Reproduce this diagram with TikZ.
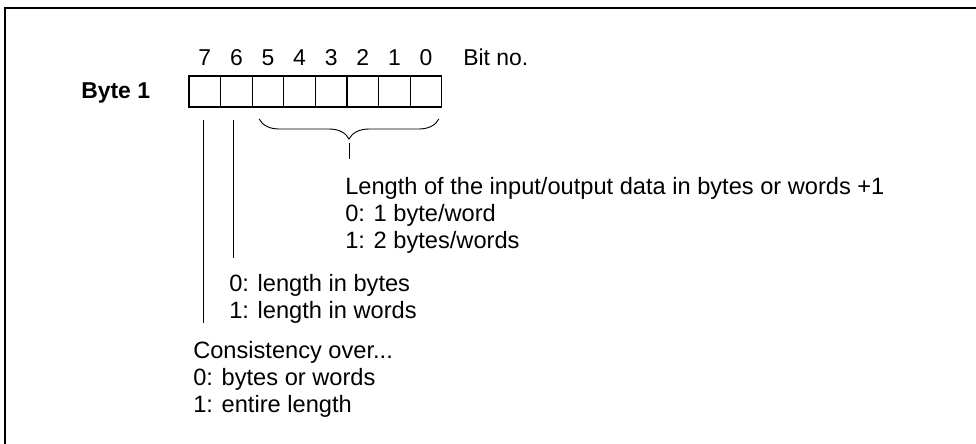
\documentclass[tikz,border=0pt]{standalone}
\usepackage{fontspec}
\setmainfont{Liberation Sans}
\usetikzlibrary{positioning,calc,decorations.pathreplacing}
\tikzset{
  cellbox/.style={draw, line width=0.95pt, minimum width=0.79cm, minimum height=0.775cm, inner sep=0pt, outer sep=0pt},
  bitlabel/.style={inner sep=0pt, font=\fontsize{16.3}{19.1}\selectfont},
  note/.style={inner sep=0pt, align=left, font=\fontsize{16.8}{19.1}\selectfont},
  leader/.style={line width=0.65pt},
  bitbrace/.style={line width=0.65pt, decorate, decoration={brace, mirror, amplitude=0.5cm}},
  frameline/.style={line width=1.1pt}
}

\begin{document}
\begin{tikzpicture}[x=0.025cm, y=-0.025cm]
    \useasboundingbox (0,0) rectangle (976,443);
    \clip (0,0) rectangle (976,443);
    \draw[frameline] (5,8) rectangle (1000,470);

    % byte cells, bit 7 on the left
    \foreach \b in {0,...,7} {
      \node[cellbox] (b\b) at ({426-31.6*\b},91.5) {};
      \node[bitlabel, anchor=base] (n\b) at ($(b\b.north)+(0,-11)$) {\b};
    }
    \node[bitlabel, base right=0.76cm of n0] (bitno) {Bit no.};
    \node[note, anchor=base west, font=\fontsize{16.3}{19.1}\selectfont\bfseries] (byte) at (81,98) {Byte 1};

    % base = baseline of the last line
    \node[note, anchor=base west] (lennote) at (345,248) {Length of the input/output data in bytes or words +1\\0: 1 byte/word\\1: 2 bytes/words};
    \node[note, anchor=base west] (unitnote) at (229,318) {0: length in bytes\\1: length in words};
    \node[note, anchor=base west] (consnote) at (193,412) {Consistency over...\\0: bytes or words\\1: entire length};

    \coordinate (brL) at ($(b5.south west)+(7,12)$);
    \coordinate (brR) at ($(b0.south east)+(-3,12)$);
    \coordinate (bracetip) at ($(brL)!0.5!(brR)+(0,24)$);
    \draw[bitbrace] (brL) -- (brR);
    \draw[leader] (bracetip) -- ($(bracetip |- lennote.north)+(0,-18)$);

    \draw[leader] ($(b6.south)+(-3,13)$) -- ($(b6.south |- unitnote.north)+(-3,-16)$);
    \draw[leader] ($(b7.south)+(-1,13)$) -- ($(b7.south |- consnote.north)+(-1,-18)$);
  \end{tikzpicture}
\end{document}
